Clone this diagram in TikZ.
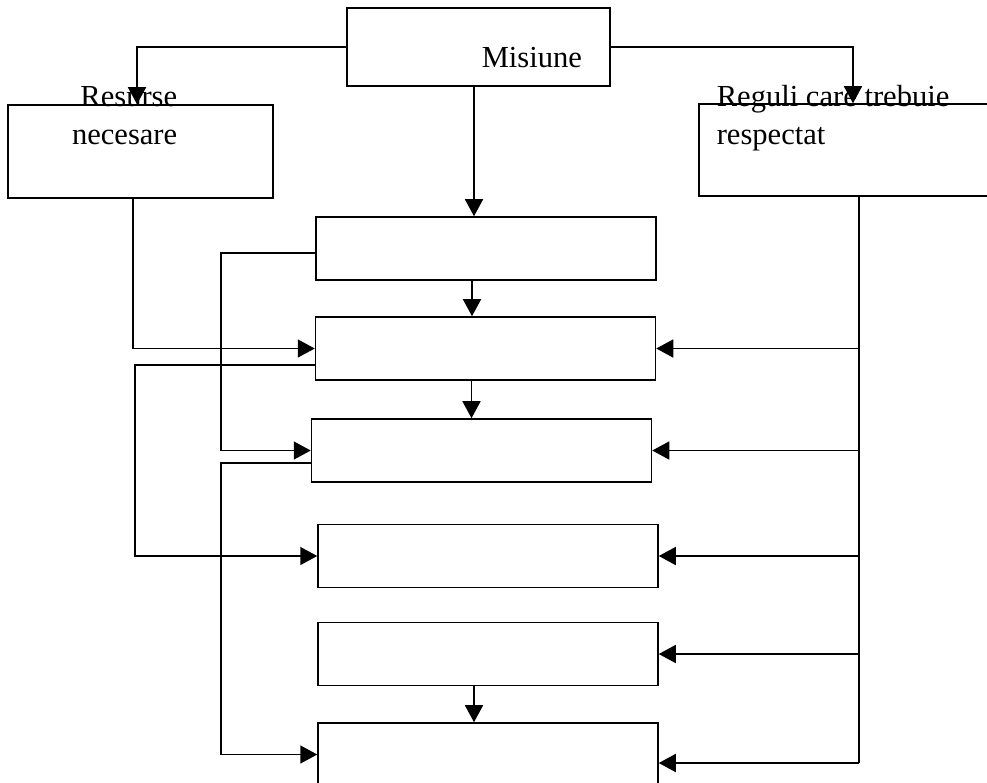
\documentclass[tikz,border=0pt]{standalone}
\usepackage{fontspec}
\setmainfont{Liberation Serif}
\usetikzlibrary{arrows.meta}

\begin{document}
\begin{tikzpicture}[x=0.02cm,y=-0.02cm,line width=0.9pt]
  \tikzstyle{box}=[rectangle,draw,minimum width=6.8cm,minimum height=1.26cm,inner sep=0pt]
  \tikzstyle{lbl}=[inner sep=0pt,font=\fontsize{17.4}{21.6}\selectfont]
  \tikzstyle{arr}=[-{Triangle[length=0.34cm,width=0.36cm]}]
  \useasboundingbox (0,0) rectangle (987,782);
  \clip (0,0) rectangle (987,782);
  \node[box,minimum width=5.26cm,minimum height=1.56cm] (misiune) at (478.5,47) {};
  \node[box,minimum width=5.3cm,minimum height=1.86cm] (resurse) at (140.5,151.5) {};
  \node[box,minimum width=6.16cm,minimum height=1.84cm] (reguli) at (853,150) {};
  \node[box] (b1) at (486,248.5) {};
  \node[box] (b2) at (485.5,348.5) {};
  \node[box] (b3) at (481.5,450.5) {};
  \node[box] (b4) at (488,556) {};
  \node[box] (b5) at (488,654) {};
  \node[box] (b6) at (488,754.5) {};
  \node[lbl,anchor=base west] (misiune-lbl) at (481,67) {Misiune};
  \node[lbl,anchor=base east,align=right] (resurse-lbl) at (178,144) {Resurse\\necesare};
  \node[lbl,anchor=base west,align=left] (reguli-lbl) at (716,144) {Reguli care trebuie\\respectat};
  \coordinate (lbus) at (221,0);
  \coordinate (llbus) at (135,0);
  \coordinate (rbus) at (859,763);
  \draw[arr] (misiune.west) -| ([xshift=-0.07cm]resurse.north);
  \draw[arr] (misiune.east) -| (reguli.north);
  \draw[arr] ([xshift=-0.09cm]misiune.south) -- ([xshift=-0.09cm]misiune.south |- b1.north);
  \foreach \a/\b in {b1/b2,b2/b3,b5/b6}
    \draw[arr] ([xshift=-0.28cm]\a.south) -- ([xshift=-0.28cm]\a.south |- \b.north);
  \draw[arr] ([xshift=-0.15cm]resurse.south) |- (b2.west);
  \draw[arr] ([yshift=-0.09cm]b1.west) -| (lbus |- b3.west) -- (b3.west);
  \draw[arr] ([yshift=-0.33cm]b2.west) -| (llbus |- b4.west) -- (b4.west);
  \draw[arr] ([yshift=-0.25cm]b3.west) -| (lbus |- b6.west) -- (b6.west);
  \draw (reguli.south -| rbus) -- (rbus);
  \foreach \b in {b2,b3,b4,b5}
    \draw[arr] (\b.east -| rbus) -- (\b.east);
  \draw[arr] (rbus) -- (rbus -| b6.east);
\end{tikzpicture}
\end{document}
